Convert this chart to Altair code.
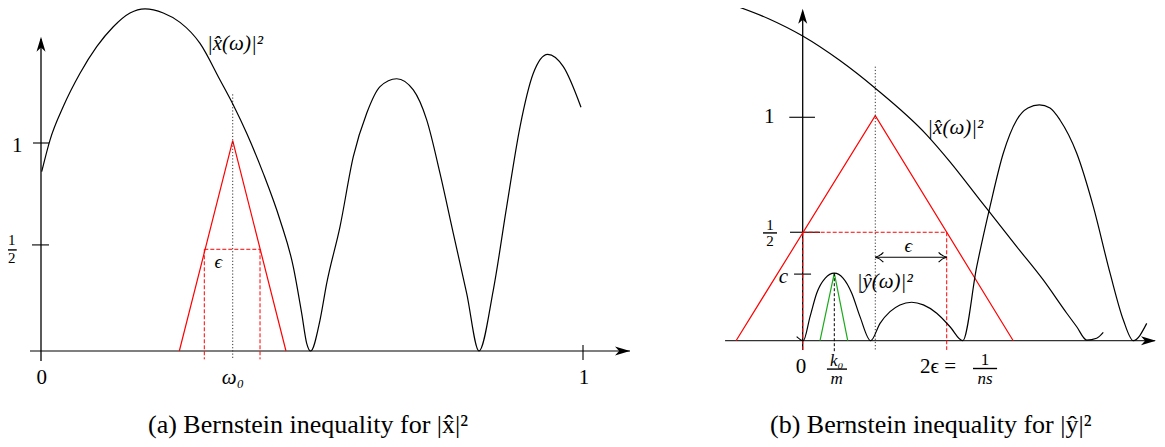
import altair as alt
import pandas as pd

SERIF = "Liberation Serif"

# ---------------- Panel (a): Bernstein inequality for |x^|^2 ----------------
# x in units of omega (0 .. 1), y in units of |x^|^2 (tick "1")
A_CURVE_U = [0.0013, 0.0166, 0.0411, 0.0720, 0.1028, 0.1334, 0.1642, 0.1919, 0.2256, 0.2565,
             0.2934, 0.3303, 0.3548, 0.3795, 0.4101, 0.4410, 0.4655, 0.4810, 0.4902, 0.4976,
             0.5148, 0.5271, 0.5517, 0.5762, 0.6009, 0.6255, 0.6563, 0.6869, 0.7116, 0.7362,
             0.7607, 0.7854, 0.8081, 0.8345, 0.8592, 0.8838, 0.9083, 0.9349, 0.9637, 0.9963]
A_CURVE_V = [0.862, 1.014, 1.175, 1.335, 1.463, 1.559, 1.625, 1.645, 1.625, 1.580,
             1.479, 1.303, 1.183, 1.047, 0.854, 0.630, 0.405, 0.181, 0.037, 0.0,
             0.149, 0.325, 0.598, 0.934, 1.143, 1.271, 1.309, 1.255, 1.111, 0.854,
             0.566, 0.277, 0.0, 0.293, 0.694, 1.078, 1.335, 1.426, 1.367, 1.172]
A_TRI_U = [0.2552, 0.3537, 0.4520]
A_TRI_V = [0.0, 1.011, 0.0]
A_OMEGA0 = 0.3537
A_EPS_LEFT, A_EPS_RIGHT = 0.3013, 0.4041
A_HALF = 0.489

# ---------------- Panel (b): Bernstein inequality for |y^|^2 ----------------
# x in units of 2*eps = 1/ns, y in units of tick "1"
B_XHAT_U = [-0.481, -0.240, 0.0, 0.258, 0.503, 0.859, 1.021, 1.229, 1.483, 1.667,
            1.830, 1.899, 1.968, 2.037, 2.083]
B_XHAT_V = [1.492, 1.432, 1.354, 1.245, 1.122, 0.915, 0.795, 0.625, 0.418, 0.270,
            0.122, 0.062, 0.003, 0.011, 0.037]
B_YHAT_U = [-0.042, 0.004, 0.051, 0.097, 0.155, 0.219, 0.281, 0.340, 0.397, 0.471,
            0.536, 0.605, 0.674, 0.755, 0.836, 0.929, 1.021, 1.109,
            1.206, 1.298, 1.390, 1.483, 1.561, 1.640, 1.714, 1.783, 1.899, 2.014,
            2.130, 2.222, 2.291, 2.384]
B_YHAT_V = [0.018, 0.0, 0.107, 0.211, 0.277, 0.300, 0.277, 0.211, 0.107, 0.0,
            0.077, 0.129, 0.159, 0.171, 0.159, 0.122, 0.062, 0.0,
            0.329, 0.596, 0.833, 0.981, 1.034, 1.048, 1.034, 0.981, 0.833, 0.596,
            0.300, 0.092, 0.0, 0.077]
B_TRI_U = [-0.462, 0.503, 1.459]
B_TRI_V = [0.0, 1.0, 0.0]
B_GREEN_U = [0.120, 0.219, 0.312]
B_GREEN_V = [0.0, 0.300, 0.0]
B_K0 = 0.219
B_OMEGA = 0.503
B_EPS_RIGHT = 0.998
B_HALF = 0.482
B_C = 0.296

# ---------------- scales (each panel has its own) ----------------
XA = alt.Scale(domain=[-0.060886, 2.059041], nice=False, zero=False)
YA = alt.Scale(domain=[-0.423077, 1.649038], nice=False, zero=False)
XB = alt.Scale(domain=[-5.50728, 2.45530], nice=False, zero=False)
YB = alt.Scale(domain=[-0.436889, 1.478667], nice=False, zero=False)

STEALTH = "M0,0 L-2,-0.6 L-1.45,0 L-2,0.6 Z"
TO_TIP = "M-1.8,-1.1 C-1.2,-0.45 -0.5,-0.1 0,0 C-0.5,0.1 -1.2,0.45 -1.8,1.1"


def curve(u, v, xs, ys, color, width=1.2, dash=None, interp="linear"):
    df = pd.DataFrame({"x": u, "y": v, "i": list(range(len(u)))})
    kw = dict(color=color, strokeWidth=width, interpolate=interp)
    if dash:
        kw["strokeDash"] = dash
    return alt.Chart(df).mark_line(**kw).encode(
        x=alt.X("x:Q", scale=xs, axis=None),
        y=alt.Y("y:Q", scale=ys, axis=None),
        order="i:Q",
    )


def segs(x1, y1, x2, y2, xs, ys, color, width=1.2, dash=None):
    df = pd.DataFrame({"x1": x1, "y1": y1, "x2": x2, "y2": y2})
    kw = dict(color=color, strokeWidth=width)
    if dash:
        kw["strokeDash"] = dash
    return alt.Chart(df).mark_rule(**kw).encode(
        x=alt.X("x1:Q", scale=xs, axis=None),
        y=alt.Y("y1:Q", scale=ys, axis=None),
        x2="x2:Q",
        y2="y2:Q",
    )


def text(t, x, y, xs, ys, size, italic=False, align="center"):
    df = pd.DataFrame({"t": t, "x": x, "y": y})
    kw = dict(font=SERIF, fontSize=size, align=align, baseline="middle", color="black")
    if italic:
        kw["fontStyle"] = "italic"
    return alt.Chart(df).mark_text(**kw).encode(
        x=alt.X("x:Q", scale=xs, axis=None),
        y=alt.Y("y:Q", scale=ys, axis=None),
        text="t:N",
    )


def tip(x, y, xs, ys, shape, size, angle, filled=True, color="black"):
    df = pd.DataFrame({"x": x, "y": y})
    if filled:
        m = alt.Chart(df).mark_point(shape=shape, size=size, angle=angle, filled=True,
                                     color=color, opacity=1, strokeWidth=0)
    else:
        m = alt.Chart(df).mark_point(shape=shape, size=size, angle=angle, filled=False,
                                     color=color, opacity=1, strokeWidth=1.1)
    return m.encode(x=alt.X("x:Q", scale=xs, axis=None), y=alt.Y("y:Q", scale=ys, axis=None))


# ---------------- panel (a) ----------------
panel_a = alt.layer(
    # axes
    segs([-0.0203], [0.0], [1.0867], [0.0], XA, YA, "#555555", 1.4),
    segs([0.0], [-0.048], [0.0], [1.50], XA, YA, "black", 1.3),
    tip([1.0867], [0.0], XA, YA, STEALTH, 225, 0),
    tip([0.0], [1.511], XA, YA, STEALTH, 225, 270),
    # ticks
    segs([-0.0148, -0.0166, 1.0], [1.0, 0.51, 0.029], [0.0148, 0.0148, 1.0], [1.0, 0.51, -0.043],
         XA, YA, "black", 1.1),
    # red triangle and dashed eps box
    curve(A_TRI_U, A_TRI_V, XA, YA, "#ff0000", 1.2),
    segs([A_EPS_LEFT, A_EPS_LEFT, A_EPS_RIGHT], [A_HALF, A_HALF, A_HALF],
         [A_EPS_RIGHT, A_EPS_LEFT, A_EPS_RIGHT], [A_HALF, -0.040, -0.040],
         XA, YA, "#ff0000", 1.0, [4, 2]),
    # dotted omega0
    segs([A_OMEGA0], [1.234], [A_OMEGA0], [-0.040], XA, YA, "#333333", 1.0, [1.2, 2]),
    # |x^|^2
    curve(A_CURVE_U, A_CURVE_V, XA, YA, "black", 1.2, interp="monotone"),
    # labels
    text(["1", "0", "1"], [-0.0437, 0.0013, 1.0018], [0.9856, -0.131, -0.131], XA, YA, 21),
    text(["1", "2"], [-0.054, -0.054], [0.534, 0.446], XA, YA, 15),
    segs([-0.0622], [0.486], [-0.0448], [0.486], XA, YA, "black", 1.4),
    text(["ω₀"], [0.354], [-0.131], XA, YA, 21, italic=True),
    text(["ϵ"], [0.3271], [0.4264], XA, YA, 19, italic=True),
    text(["|x̂(ω)|²"], [0.3063], [1.476], XA, YA, 21, italic=True, align="left"),
    text(["(a) Bernstein inequality for |x̂|²"], [0.1974], [-0.3558], XA, YA, 26, align="left"),
)

# ---------------- panel (b) ----------------
panel_b = alt.layer(
    # axes
    segs([-0.538], [0.0], [2.44], [0.0], XB, YB, "#333333", 1.3),
    segs([0.0], [-0.041], [0.0], [1.46], XB, YB, "black", 1.3),
    tip([2.448], [0.0], XB, YB, STEALTH, 225, 0),
    tip([0.0], [1.475], XB, YB, STEALTH, 225, 270),
    # ticks
    segs([-0.093, -0.088, -0.060], [0.993, B_HALF, B_C], [0.085, 0.120, 0.058], [0.993, B_HALF, B_C],
         XB, YB, "black", 1.1),
    # red triangle + dashed box
    curve(B_TRI_U, B_TRI_V, XB, YB, "#ff0000", 1.2),
    segs([0.0, 0.0, B_EPS_RIGHT], [B_HALF, B_HALF, B_HALF], [B_EPS_RIGHT, 0.0, B_EPS_RIGHT],
         [B_HALF, -0.041, -0.041], XB, YB, "#ff0000", 1.0, [4, 2]),
    # dotted vertical at apex
    segs([B_OMEGA], [1.218], [B_OMEGA], [-0.041], XB, YB, "#333333", 1.0, [1.2, 2]),
    # eps double arrow
    segs([B_OMEGA], [0.371], [B_EPS_RIGHT], [0.371], XB, YB, "black", 1.1),
    tip([B_EPS_RIGHT], [0.371], XB, YB, TO_TIP, 81, 0, filled=False),
    tip([B_OMEGA], [0.371], XB, YB, TO_TIP, 81, 180, filled=False),
    # green triangle and dashed k0/m
    curve(B_GREEN_U, B_GREEN_V, XB, YB, "#1aaa1a", 1.2),
    segs([B_K0], [0.300], [B_K0], [-0.050], XB, YB, "black", 1.0, [3, 2]),
    # curves
    curve(B_XHAT_U, B_XHAT_V, XB, YB, "black", 1.2, interp="monotone"),
    curve(B_YHAT_U, B_YHAT_V, XB, YB, "black", 1.2, interp="monotone"),
    # labels
    text(["1", "0"], [-0.232, -0.012], [0.9956, -0.115], XB, YB, 21),
    text(["1", "2"], [-0.2266, -0.2266], [0.514, 0.441], XB, YB, 15),
    segs([-0.2751], [0.479], [-0.1781], [0.479], XB, YB, "black", 1.4),
    text(["c"], [-0.1344], [0.284], XB, YB, 21, italic=True),
    text(["k₀", "m"], [0.2356, 0.2356], [-0.090, -0.172], XB, YB, 17, italic=True),
    segs([0.168], [-0.1262], [0.307], [-0.1262], XB, YB, "black", 1.4),
    text(["2ϵ ="], [0.8129], [-0.1156], XB, YB, 21, align="left"),
    text(["1"], [1.2633], [-0.0836], XB, YB, 17),
    text(["ns"], [1.2633], [-0.1680], XB, YB, 17, italic=True),
    segs([1.180], [-0.1236], [1.347], [-0.1236], XB, YB, "black", 1.4),
    text(["ϵ"], [0.732], [0.421], XB, YB, 19, italic=True),
    text(["|ŷ(ω)|²"], [0.3742], [0.262], XB, YB, 21, italic=True, align="left"),
    text(["|x̂(ω)|²"], [0.8635], [0.944], XB, YB, 21, italic=True, align="left"),
    text(["(b) Bernstein inequality for |ŷ|²"], [-0.2266], [-0.3747], XB, YB, 26, align="left"),
)

chart = (
    alt.layer(panel_a, panel_b)
    .resolve_scale(x="independent", y="independent")
    .properties(width=1149, height=431, padding=0, autosize=alt.AutoSizeParams(type="none"))
    .configure_view(stroke=None)
)

chart.save("out.html", embed_options={"renderer": "svg", "actions": False})
